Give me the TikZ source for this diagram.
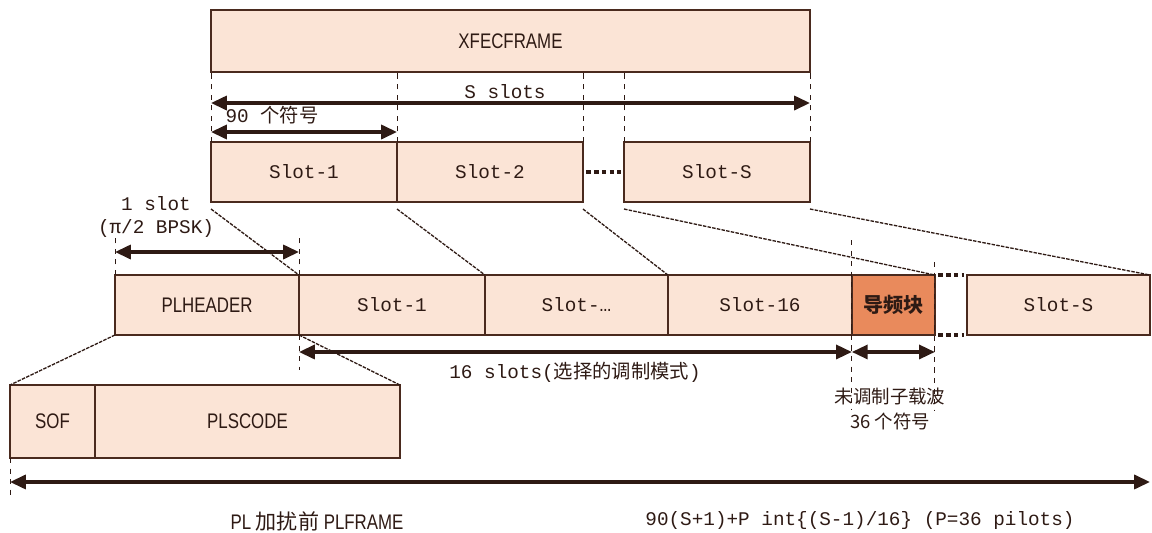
\documentclass[tikz,border=0pt]{standalone}
\usepackage{fontspec}
\setmainfont{Liberation Mono}
\newfontfamily\cjk{Noto Sans CJK SC}
\newfontfamily\narrow[FakeStretch=0.8]{Liberation Sans}
\usetikzlibrary{arrows.meta, positioning, calc}
\definecolor{framepeach}{HTML}{FBE4D6}
\definecolor{framebrown}{HTML}{4A2A1E}
\definecolor{pilotorange}{HTML}{E98A5C}
\definecolor{inkdark}{HTML}{2E1A14}

\tikzset{
  slotbox/.style={draw=framebrown, fill=framepeach, line width=1pt, outer sep=0pt, inner sep=0pt,
    minimum height=1.2cm, text=inkdark, font=\fontsize{11}{12}\selectfont},
  pilotbox/.style={slotbox, fill=pilotorange, font=\cjk\bfseries\fontsize{11.5}{13}\selectfont},
  namebox/.style={slotbox, font=\narrow\fontsize{12}{13}\selectfont},
  guide/.style={inkdark, dashed, line width=0.5pt},
  link/.style={inkdark, dash pattern=on 2pt off 0.7pt, line width=0.75pt},
  dim/.style={inkdark, line width=1.8pt, {Triangle[length=9pt,width=8pt]}-{Triangle[length=9pt,width=8pt]}},
  dotgap/.style={inkdark, line width=2.6pt, dash pattern=on 2.6pt off 1.8pt},
  lbl/.style={text=inkdark, inner sep=1pt, font=\fontsize{11}{13}\selectfont}
}

\begin{document}
\begin{tikzpicture}[x=0.02cm, y=-0.02cm]
  \useasboundingbox (0,0) rectangle (1152,533);

  % XFECFRAME and its slots
  \node[namebox, minimum width=11.98cm, minimum height=1.24cm] (xfec) at (510.5,41) {XFECFRAME};
  \node[slotbox, minimum width=3.72cm] (top1) at (304,172) {Slot-1};
  \node[slotbox, minimum width=3.72cm, right=0pt of top1] (top2) {Slot-2};
  \node[slotbox, minimum width=3.72cm] (topS) at (717,172) {Slot-S};
  \draw[dotgap] ([xshift=2pt]top2.east) -- ([xshift=-2pt]topS.west);

  \draw[guide] (top1.north west) -- (top1.north west |- xfec.south);
  \draw[guide] (top2.north west) -- (top2.north west |- xfec.south);
  \draw[guide] (top2.north east) -- (top2.north east |- xfec.south);
  \draw[guide] (topS.north west) -- (topS.north west |- xfec.south);
  \draw[guide] (topS.north east) -- (topS.north east |- xfec.south);

  \draw[dim] ([yshift=0.78cm]top1.north west) -- ([yshift=0.78cm]topS.north east);
  \draw[dim] ([yshift=0.2cm]top1.north west) -- ([yshift=0.2cm]top1.north east);
  \node[lbl] (lblS) at (505,92) {S slots};
  \node[lbl] (lbl90) at (272,115) {90 {\cjk 个符号}};

  % PLFRAME row
  \node[namebox, minimum width=3.68cm] (plh) at (207,305) {PLHEADER};
  \node[slotbox, minimum width=3.72cm, right=0pt of plh] (mid1) {Slot-1};
  \node[slotbox, minimum width=3.66cm, right=0pt of mid1] (midx) {Slot-…};
  \node[slotbox, minimum width=3.68cm, right=0pt of midx] (mid16) {Slot-16};
  \node[pilotbox, minimum width=1.66cm, right=0pt of mid16] (pilot) {导频块};
  \node[slotbox, minimum width=3.66cm] (midS) at (1058.5,305) {Slot-S};
  \draw[dotgap] ([xshift=2pt]pilot.north east) -- ([xshift=-2pt]midS.north west);
  \draw[dotgap] ([xshift=2pt]pilot.south east) -- ([xshift=-2pt]midS.south west);

  \draw[link] ([yshift=-4pt]top1.south west) -- (plh.north east);
  \draw[link] ([yshift=-4pt]top2.south west) -- (mid1.north east);
  \draw[link] ([yshift=-4pt]top2.south east) -- (midx.north east);
  \draw[link] ([yshift=-4pt]topS.south west) -- (pilot.north east);
  \draw[link] ([yshift=-4pt]topS.south east) -- (midS.north east);

  % header detail
  \node[namebox, minimum width=1.7cm, minimum height=1.46cm] (sof) at (52.5,421.5) {SOF};
  \node[namebox, minimum width=6.1cm, minimum height=1.46cm, right=0pt of sof] (plsc) {PLSCODE};
  \draw[link] (plh.south west) -- (sof.north west);
  \draw[link] (plh.south east) -- (plsc.north east);

  \draw[guide] (plh.north west) -- ++(0,-40);
  \draw[guide] (plh.north east) -- ++(0,-40);
  \draw[guide] (plh.south east) -- ++(0,35);
  \draw[guide] ([yshift=0.7cm]pilot.north west) -- ([yshift=-1.5cm]pilot.south west);
  \draw[guide] ([yshift=0.26cm]pilot.north east) -- ([yshift=-1.5cm]pilot.south east);
  \draw[guide] (sof.south west) -- ++(0,40);

  \draw[dim] ([yshift=0.46cm]plh.north west) -- ([yshift=0.46cm]plh.north east);
  \node[lbl, align=center] (lbl1) at (156,217) {1 slot\\(π/2 BPSK)};
  \draw[dim] ([yshift=-0.34cm]plh.south east) -- ([yshift=-0.34cm]mid16.south east);
  \draw[dim] ([yshift=-0.34cm]pilot.south west) -- ([yshift=-0.34cm]pilot.south east);
  \node[lbl] (lbl16) at (575,372) {16 slots({\cjk 选择的调制模式})};
  \node[lbl, align=center, font=\cjk\fontsize{10.5}{14}\selectfont] (lblp) at (890,409) {未调制子载波\\36 个符号};

  % whole frame
  \draw[dim] ([yshift=-0.48cm]sof.south west) -- ([yshift=-0.48cm]sof.south west -| midS.east);
  \node[lbl, font=\narrow\fontsize{12}{13}\selectfont] (lblpl) at (317,521) {PL {\cjk 加扰前} PLFRAME};
  \node[lbl] (lblf) at (860,521) {90(S+1)+P int\{(S-1)/16\} (P=36 pilots)};
\end{tikzpicture}
\end{document}
